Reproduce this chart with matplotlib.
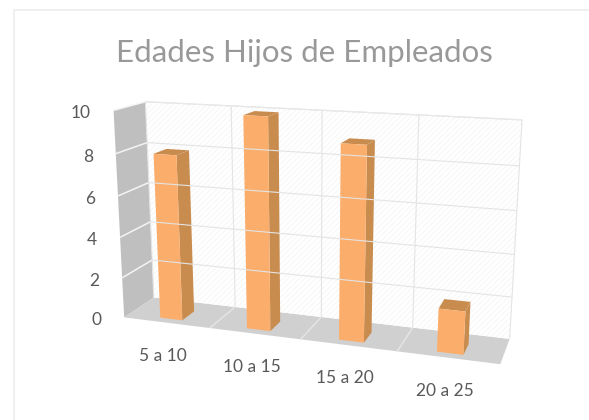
import numpy as np
import matplotlib
matplotlib.use("Agg")
import matplotlib.pyplot as plt
from matplotlib.patches import Polygon

categories = ["5 a 10", "10 a 15", "15 a 20", "20 a 25"]
values = [8, 10, 9, 2]
y_ticks = [0, 2, 4, 6, 8, 10]
title = "Edades Hijos de Empleados"

plt.rcParams['font.family'] = ['Lato', 'DejaVu Sans']
plt.rcParams['hatch.linewidth'] = 0.5

# camera calibration: cube corners (cat, val, depth) -> pixels
model = [(0,0,0),(0,10,0),(0,0,1),(0,10,1),(4,0,1),(4,10,1),(4,0,0)]
pixels = [(125,317),(113,110),(153,298),(146,102),(510,338),(522,120),(500,365)]
A = []
for (x,y,z),(u,v) in zip(model,pixels):
    X=[x/4,y/10,z,1]; u/=500; v/=500
    A.append(X+[0,0,0,0]+[-u*c for c in X])
    A.append([0,0,0,0]+X+[-v*c for c in X])
P = np.linalg.svd(np.array(A))[2][-1].reshape(3,4)

def pr(x,y,z):
    h = P @ np.array([x/4,y/10,z,1.0])
    return (h[0]/h[2]*500, h[1]/h[2]*500)

fig = plt.figure(figsize=(5.89,4.20),dpi=100)
ax = fig.add_axes([0,0,1,1])
ax.set_xlim(0,589); ax.set_ylim(420,0); ax.axis('off')

def face(pts,**kw):
    ax.add_patch(Polygon([pr(*p) for p in pts],closed=True,**kw))
def seg(a,b,color,lw):
    pa,pb=pr(*a),pr(*b)
    ax.plot([pa[0],pb[0]],[pa[1],pb[1]],color=color,lw=lw,solid_capstyle='butt')

# outer frame
ax.plot([14,14,589],[420,9.5,9.5],color='#efefef',lw=1.4)

n=len(categories); ymax=y_ticks[-1]
face([(0,0,0),(0,ymax,0),(0,ymax,1),(0,0,1)],fc='#bfbfbf',ec='none')
face([(0,0,1),(n,0,1),(n,0,0),(0,0,0)],fc='#d0d0d0',ec='none')
face([(0,0,1),(n,0,1),(n,ymax,1),(0,ymax,1)],fc='white',ec='#f3f3f3',hatch='//////',lw=0)

for t in y_ticks:
    if t>0:
        seg((0,t,1),(n,t,1),'#e4e4e4',0.8)
        seg((0,t,0),(0,t,1),'#f4f4f4',1.1)
for i in range(n+1):
    seg((i,0,1),(i,ymax,1),'#e4e4e4',0.8)
    if 0<i<n:
        seg((i,0,0),(i,0,1),'#e6e6e6',1.0)
seg((0,ymax,1),(n,ymax,1),'#e8e8e8',0.9)

BW=0.13; Z0=0.17; Z1=0.60
for i,val in enumerate(values):
    x0,x1=i+0.5-BW,i+0.5+BW
    face([(x1,0,Z0),(x1,0,Z1),(x1,val,Z1),(x1,val,Z0)],fc='#c98c4f',ec='none')
    face([(x0,val,Z0),(x1,val,Z0),(x1,val,Z1),(x0,val,Z1)],fc='#c98c4f',ec='none')
    face([(x0,0,Z0),(x1,0,Z0),(x1,val,Z0),(x0,val,Z0)],fc='#fbad6b',ec='none')

for t in y_ticks:
    u,v=pr(0,t,0)
    ax.text(u-23,v+3,str(t),ha='right',va='center',fontsize=12.5,color='#595959')
for i,c in enumerate(categories):
    u,v=pr(i+0.5,0,0)
    ax.text(u-3,v+33,c,ha='center',va='center',fontsize=12.5,color='#595959')

ax.text(304,53,title,ha='center',va='center',fontsize=22.5,color='#999999')
fig.savefig('out.png',dpi=100)
